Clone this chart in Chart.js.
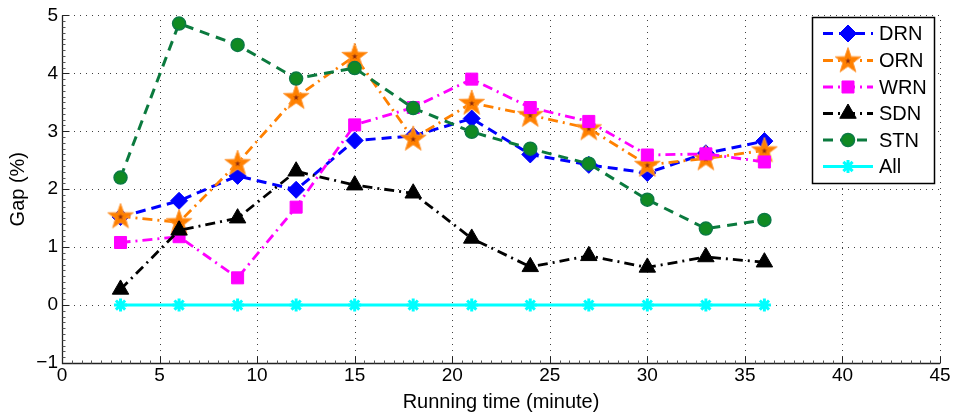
<!DOCTYPE html>
<html><head><meta charset="utf-8">
<script src="https://cdn.jsdelivr.net/npm/chart.js@4.4.0/dist/chart.umd.min.js"></script>
<style>html,body{margin:0;padding:0;background:#fff}canvas{display:block}</style>
</head><body>
<canvas id="c" width="954" height="417"></canvas>
<script>
// ---- data ----
const times = [3, 6, 9, 12, 15, 18, 21, 24, 27, 30, 33, 36];
const seriesNames = ['DRN', 'ORN', 'WRN', 'SDN', 'STN', 'All'];
const drn = [1.52, 1.80, 2.23, 1.99, 2.84, 2.92, 3.22, 2.60, 2.42, 2.28, 2.62, 2.83];
const orn = [1.53, 1.43, 2.45, 3.59, 4.30, 2.87, 3.49, 3.28, 3.05, 2.42, 2.53, 2.67];
const wrn = [1.08, 1.18, 0.47, 1.69, 3.11, 3.41, 3.90, 3.41, 3.17, 2.59, 2.61, 2.47];
const sdn = [0.27, 1.29, 1.50, 2.31, 2.07, 1.93, 1.15, 0.66, 0.85, 0.65, 0.83, 0.74];
const stn = [2.20, 4.86, 4.49, 3.91, 4.09, 3.40, 2.99, 2.70, 2.44, 1.82, 1.32, 1.47];
const allGap = [0, 0, 0, 0, 0, 0, 0, 0, 0, 0, 0, 0];
const xTickValues = [0, 5, 10, 15, 20, 25, 30, 35, 40, 45];
const yTickValues = [-1, 0, 1, 2, 3, 4, 5];
const yTickLabels = ['\u22121', '0', '1', '2', '3', '4', '5'];
const xTitle = 'Running time (minute)';
const yTitle = 'Gap (%)';

// ---- star marker image ----
function makeStar() {
  const c = document.createElement('canvas');
  c.width = 30; c.height = 30;
  const g = c.getContext('2d');
  function star(cx, cy, ro, ri) {
    g.beginPath();
    for (let i = 0; i < 10; i++) {
      const r = i % 2 ? ri : ro;
      const a = -Math.PI / 2 + i * Math.PI / 5;
      g.lineTo(cx + r * Math.cos(a), cy + r * Math.sin(a));
    }
    g.closePath();
  }
  star(15, 15.5, 13.5, 5.4);
  g.fillStyle = '#ff8000'; g.fill();
  g.strokeStyle = '#ff9a3a'; g.lineWidth = 1; g.stroke();
  star(15, 15.5, 3, 1.2);
  g.fillStyle = '#8a2a10'; g.fill();
  return c;
}
const starImg = makeStar();

const pts = arr => times.map((t, i) => ({x: t, y: arr[i]}));

const styles = [
  {data: drn, color: '#0000ff', dash: [10, 6], width: 3, pointStyle: 'rectRot', radius: 8.5, bg: '#0000ff', bc: '#0000ff', bw: 1},
  {data: orn, color: '#ff8000', dash: [10, 5, 2, 5], width: 2.8, pointStyle: starImg, radius: 13, bg: '#ff8000', bc: '#ff8000', bw: 1},
  {data: wrn, color: '#ff00ff', dash: [10, 5, 2, 5], width: 2.8, pointStyle: 'rect', radius: 8.5, bg: '#ff00ff', bc: '#ff00ff', bw: 1},
  {data: sdn, color: '#000000', dash: [10, 5, 2, 5], width: 2.8, pointStyle: 'triangle', radius: 9.5, bg: '#000000', bc: '#000000', bw: 1},
  {data: stn, color: '#0b7a3e', dash: [10, 7], width: 3, pointStyle: 'circle', radius: 6.5, bg: '#108a22', bc: '#0b7a45', bw: 1.5},
  {data: allGap, color: '#00ffff', dash: [], width: 3, pointStyle: 'star', radius: 6.5, bg: '#00ffff', bc: '#00ffff', bw: 3}
];

const datasets = styles.map((s, i) => ({
  label: seriesNames[i],
  data: pts(s.data),
  borderColor: s.color,
  backgroundColor: s.bg,
  borderWidth: s.width,
  borderDash: s.dash,
  pointStyle: s.pointStyle,
  pointRadius: s.radius,
  pointHoverRadius: s.radius,
  pointBackgroundColor: s.bg,
  pointBorderColor: s.bc,
  pointBorderWidth: s.bw,
  fill: false,
  tension: 0,
  clip: false,
  order: styles.length - 1 - i
}));

// ---- axes/grid plugin ----
const frame = {
  id: 'frame',
  beforeDatasetsDraw(chart) {
    const {ctx, chartArea: a, scales: {x, y}} = chart;
    ctx.save();
    // dotted grid
    ctx.strokeStyle = 'rgba(0,0,0,0.75)';
    ctx.lineWidth = 1;
    ctx.setLineDash([1, 5]);
    xTickValues.forEach(v => {
      if (v === xTickValues[0]) return;
      const px = Math.round(x.getPixelForValue(v)) + 0.5;
      ctx.beginPath(); ctx.moveTo(px, a.bottom); ctx.lineTo(px, a.top); ctx.stroke();
    });
    yTickValues.forEach(v => {
      if (v === yTickValues[0]) return;
      const py = Math.round(y.getPixelForValue(v)) + 0.5;
      ctx.beginPath(); ctx.moveTo(a.left, py); ctx.lineTo(a.right, py); ctx.stroke();
    });
    ctx.setLineDash([]);
    // axes lines
    ctx.strokeStyle = '#222';
    ctx.lineWidth = 1.3;
    const L = Math.round(a.left) + 0.5, B = Math.round(a.bottom) + 0.5;
    ctx.beginPath(); ctx.moveTo(L, a.top); ctx.lineTo(L, B); ctx.lineTo(a.right, B); ctx.stroke();
    // major ticks
    ctx.lineWidth = 1;
    yTickValues.forEach(v => {
      const py = Math.round(y.getPixelForValue(v)) + 0.5;
      ctx.beginPath(); ctx.moveTo(L, py); ctx.lineTo(L + 7, py); ctx.stroke();
    });
    xTickValues.forEach(v => {
      const px = Math.round(x.getPixelForValue(v)) + 0.5;
      ctx.beginPath(); ctx.moveTo(px, B); ctx.lineTo(px, B - 7); ctx.stroke();
    });
    // minor ticks
    ctx.strokeStyle = '#555';
    for (let k = 1; k < 60; k++) {
      if (k % 10 === 0) continue;
      const py = Math.round(y.getPixelForValue(-1 + k / 10)) + 0.5;
      ctx.beginPath(); ctx.moveTo(L, py); ctx.lineTo(L + 3, py); ctx.stroke();
    }
    for (let k = 1; k < 90; k++) {
      if (k % 10 === 0) continue;
      const px = Math.round(x.getPixelForValue(k / 2)) + 0.5;
      ctx.beginPath(); ctx.moveTo(px, B); ctx.lineTo(px, B - 3); ctx.stroke();
    }
    ctx.restore();
  },
  afterDatasetsDraw(chart) {
    const {ctx} = chart;
    ctx.save();
    const bx = 812, by = 17, bw = 122, bh = 166;
    ctx.fillStyle = '#fff';
    ctx.fillRect(bx, by, bw, bh);
    ctx.strokeStyle = '#000';
    ctx.lineWidth = 1.5;
    ctx.strokeRect(bx + 0.5, by + 0.5, bw, bh);
    const rowY = [33.5, 60.5, 87, 113.5, 140, 166.5];
    chart.data.datasets.forEach((ds, i) => {
      const yy = rowY[i];
      ctx.strokeStyle = ds.borderColor;
      ctx.lineWidth = ds.borderWidth;
      ctx.setLineDash(ds.borderDash || []);
      ctx.beginPath(); ctx.moveTo(823, yy); ctx.lineTo(873, yy); ctx.stroke();
      ctx.setLineDash([]);
      ctx.fillStyle = ds.pointBackgroundColor;
      ctx.strokeStyle = ds.pointBorderColor;
      ctx.lineWidth = ds.pointBorderWidth;
      if (ds.pointStyle instanceof HTMLCanvasElement) {
        ctx.drawImage(ds.pointStyle, 848 - 15, yy - 15);
      } else {
        Chart.helpers.drawPoint(ctx, {pointStyle: ds.pointStyle, radius: ds.pointRadius, rotation: 0, borderWidth: ds.pointBorderWidth}, 848, yy);
      }
      ctx.fillStyle = '#000';
      ctx.font = '20px "Liberation Sans", Arial, sans-serif';
      ctx.textAlign = 'left';
      ctx.textBaseline = 'middle';
      ctx.fillText(ds.label, 879, yy + 1);
    });
    ctx.restore();
  }
};

const tickFont = {family: '"Liberation Sans", Arial, sans-serif', size: 19};
new Chart(document.getElementById('c'), {
  type: 'line',
  data: {datasets},
  options: {
    responsive: false,
    animation: false,
    events: [],
    layout: {padding: {top: 10, right: 13, left: 0, bottom: 0}},
    plugins: {legend: {display: false}, tooltip: {enabled: false}},
    scales: {
      x: {
        type: 'linear', min: 0, max: 45,
        afterFit: s => { s.height = 54; },
        afterBuildTicks: s => { s.ticks = xTickValues.map(v => ({value: v})); },
        grid: {display: false, drawTicks: false}, border: {display: false},
        ticks: {font: tickFont, color: '#000', padding: 1, maxRotation: 0, autoSkip: false},
        title: {display: true, text: xTitle, color: '#000', font: {family: '"Liberation Sans", Arial, sans-serif', size: 20}, padding: {top: 0, bottom: 3}}
      },
      y: {
        type: 'linear', min: -1, max: 5,
        afterFit: s => { s.width = 62; },
        afterBuildTicks: s => { s.ticks = yTickValues.map(v => ({value: v})); },
        grid: {display: false, drawTicks: false}, border: {display: false},
        ticks: {font: tickFont, color: '#000', padding: 4, autoSkip: false,
          callback: v => yTickLabels[yTickValues.indexOf(v)]},
        title: {display: true, text: yTitle, color: '#000', font: {family: '"Liberation Sans", Arial, sans-serif', size: 20}, padding: {top: 6, bottom: 0}}
      }
    }
  },
  plugins: [frame]
});
</script>
</body></html>
